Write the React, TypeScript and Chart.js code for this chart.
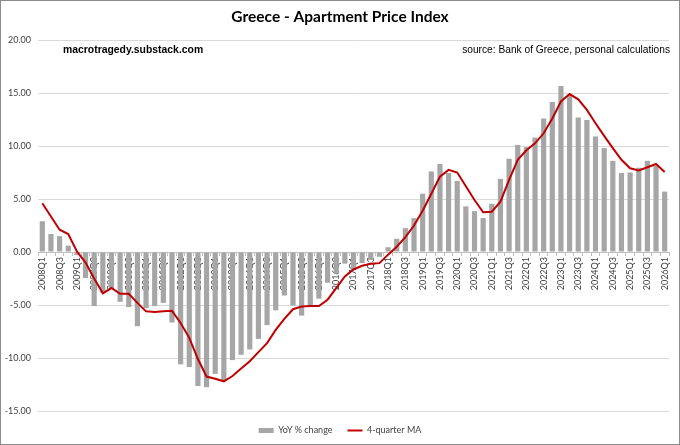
import React, { useEffect, useRef } from "react";
import { Chart, registerables } from "chart.js";

Chart.register(...registerables);

const quarters = [
  "2008Q1", "2008Q2", "2008Q3", "2008Q4",
  "2009Q1", "2009Q2", "2009Q3", "2009Q4",
  "2010Q1", "2010Q2", "2010Q3", "2010Q4",
  "2011Q1", "2011Q2", "2011Q3", "2011Q4",
  "2012Q1", "2012Q2", "2012Q3", "2012Q4",
  "2013Q1", "2013Q2", "2013Q3", "2013Q4",
  "2014Q1", "2014Q2", "2014Q3", "2014Q4",
  "2015Q1", "2015Q2", "2015Q3", "2015Q4",
  "2016Q1", "2016Q2", "2016Q3", "2016Q4",
  "2017Q1", "2017Q2", "2017Q3", "2017Q4",
  "2018Q1", "2018Q2", "2018Q3", "2018Q4",
  "2019Q1", "2019Q2", "2019Q3", "2019Q4",
  "2020Q1", "2020Q2", "2020Q3", "2020Q4",
  "2021Q1", "2021Q2", "2021Q3", "2021Q4",
  "2022Q1", "2022Q2", "2022Q3", "2022Q4",
  "2023Q1", "2023Q2", "2023Q3", "2023Q4",
  "2024Q1", "2024Q2", "2024Q3", "2024Q4",
  "2025Q1", "2025Q2", "2025Q3", "2025Q4",
  "2026Q1",
];

const yoyChange = [
  2.9, 1.7, 1.5, 0.6,
  -0.3, -2.45, -5.1, -3.85,
  -3.4, -4.7, -5.2, -7.0,
  -5.3, -5.1, -4.8, -6.65,
  -10.6, -10.85, -12.65, -12.75,
  -11.5, -12.1, -10.2, -9.7,
  -9.2, -8.2, -6.9, -5.5,
  -4.1, -5.05, -6.0, -5.0,
  -4.4, -2.9, -2.0, -1.1,
  -1.7, -1.05, -0.75, -0.45,
  0.45, 1.25, 2.25, 3.2,
  5.5, 7.6, 8.3, 7.45,
  6.7, 4.3, 3.85, 3.2,
  4.55, 6.9, 8.8, 10.1,
  9.9, 10.8, 12.6, 14.15,
  15.65, 14.8, 12.7, 12.45,
  10.9, 9.8, 8.6, 7.45,
  7.5, 7.95, 8.6, 8.15,
  5.7,
];

const movingAvg = [
  4.6, 3.35, 2.1, 1.7,
  0.05, -1.0, -2.5, -3.9,
  -3.4, -3.95, -3.95, -4.8,
  -5.6, -5.65, -5.6, -5.55,
  -6.7, -8.1, -10.1, -11.75,
  -11.95, -12.2, -11.7, -11.0,
  -10.3, -9.45, -8.6, -7.35,
  -6.3, -5.4, -5.15, -5.1,
  -5.1, -4.5, -3.4, -2.3,
  -1.65, -1.3, -1.1, -1.05,
  -0.25, 0.5, 1.4, 2.5,
  3.9, 5.5, 7.1, 7.75,
  7.5, 6.2, 4.9, 3.75,
  3.8, 4.75, 6.8, 8.7,
  9.6, 10.25, 11.2, 12.6,
  14.2, 14.9, 14.4, 13.4,
  12.15, 10.95, 9.8, 8.7,
  7.9, 7.7, 8.0, 8.3,
  7.55,
];

const yMin = -15;
const yMax = 20;
const yStep = 5;

const titleText = "Greece - Apartment Price Index";
const leftNote = "macrotragedy.substack.com";
const rightNote = "source: Bank of Greece, personal calculations";

export default function App() {
  const ref = useRef<HTMLCanvasElement>(null);

  useEffect(() => {
    document.body.style.margin = "0";
    if (!ref.current) return;

    const notes = {
      id: "notes",
      afterDraw(chart: any) {
        const { ctx, chartArea } = chart;
        ctx.save();
        ctx.fillStyle = "#000";
        ctx.textBaseline = "middle";
        ctx.font = "bold 10.4px 'Liberation Sans', Arial, sans-serif";
        ctx.textAlign = "left";
        ctx.fillText(leftNote, chartArea.left + 25, chartArea.top + 10);
        ctx.font = "10.2px 'Liberation Sans', Arial, sans-serif";
        ctx.textAlign = "right";
        ctx.fillText(rightNote, chartArea.right + 1, chartArea.top + 10);
        ctx.strokeStyle = "#8c8c8c";
        ctx.lineWidth = 1;
        ctx.strokeRect(0.5, 0.5, chart.width - 1, chart.height - 1);
        ctx.restore();
      },
    };

    const chart = new Chart(ref.current, {
      type: "bar",
      data: {
        labels: quarters,
        datasets: [
          {
            type: "bar",
            label: "YoY % change",
            data: yoyChange,
            backgroundColor: "#a6a6a6",
            barPercentage: 0.6,
            categoryPercentage: 1,
            order: 1,
          },
          {
            type: "line",
            label: "4-quarter MA",
            data: movingAvg,
            borderColor: "#c00000",
            backgroundColor: "#c00000",
            borderWidth: 2,
            pointRadius: 0,
            tension: 0,
            order: 0,
          },
        ] as any,
      },
      options: {
        animation: false,
        responsive: true,
        maintainAspectRatio: false,
        layout: { padding: { left: 0, right: 0, top: 0, bottom: 0 } },
        plugins: {
          title: {
            display: true,
            text: titleText,
            color: "#000",
            font: { family: "Lato", size: 15.5, weight: "bold" },
            padding: { top: 8, bottom: 13.4 },
          },
          legend: {
            position: "bottom",
            labels: {
              usePointStyle: true,
              pointStyleWidth: 15,
              boxHeight: 5,
              padding: 15,
              color: "#404040",
              font: { family: "Lato", size: 9 },
              sort: (a: any, b: any) => a.datasetIndex - b.datasetIndex,
              generateLabels: (c: any) => {
                const items = (Chart.defaults.plugins.legend.labels as any).generateLabels(c);
                items.forEach((it: any) => {
                  const ds: any = c.data.datasets[it.datasetIndex];
                  if (ds.type === "line") {
                    it.pointStyle = "line";
                    it.lineWidth = 2;
                    it.strokeStyle = "#c00000";
                  } else {
                    it.pointStyle = "rect";
                    it.lineWidth = 0;
                    it.fillStyle = "#a6a6a6";
                  }
                });
                return items;
              },
            },
          },
          tooltip: { enabled: false },
        },
        scales: {
          x: {
            position: { y: 0 } as any,
            afterFit: (s: any) => {
              s.height = 0;
            },
            grid: {
              drawOnChartArea: false,
              drawTicks: true,
              tickLength: 3,
              color: "#bfbfbf",
            },
            border: { color: "#bfbfbf" },
            ticks: {
              autoSkip: false,
              minRotation: 90,
              maxRotation: 90,
              padding: 2,
              color: "#404040",
              font: { family: "Lato", size: 9 },
              callback: (_v: any, i: number) => (i % 2 === 0 ? quarters[i] : ""),
            },
          },
          y: {
            position: "left",
            min: yMin,
            max: yMax,
            afterFit: (s: any) => {
              s.width = 38;
            },
            grid: { color: "#d9d9d9", drawTicks: false },
            border: { display: false },
            ticks: {
              stepSize: yStep,
              padding: 7,
              color: "#404040",
              font: { family: "Lato", size: 9 },
              callback: (v: any) => Number(v).toFixed(2),
            },
          },
          gutter: {
            position: "right",
            min: yMin,
            max: yMax,
            afterFit: (s: any) => {
              s.width = 11;
            },
            grid: { display: false, drawTicks: false },
            border: { display: false },
            ticks: { display: false },
          },
        },
      },
      plugins: [notes],
    } as any);

    return () => chart.destroy();
  }, []);

  return (
    <div style={{ position: "fixed", left: 0, top: 0, width: 680, height: 445, background: "#fff" }}>
      <canvas ref={ref} />
    </div>
  );
}
